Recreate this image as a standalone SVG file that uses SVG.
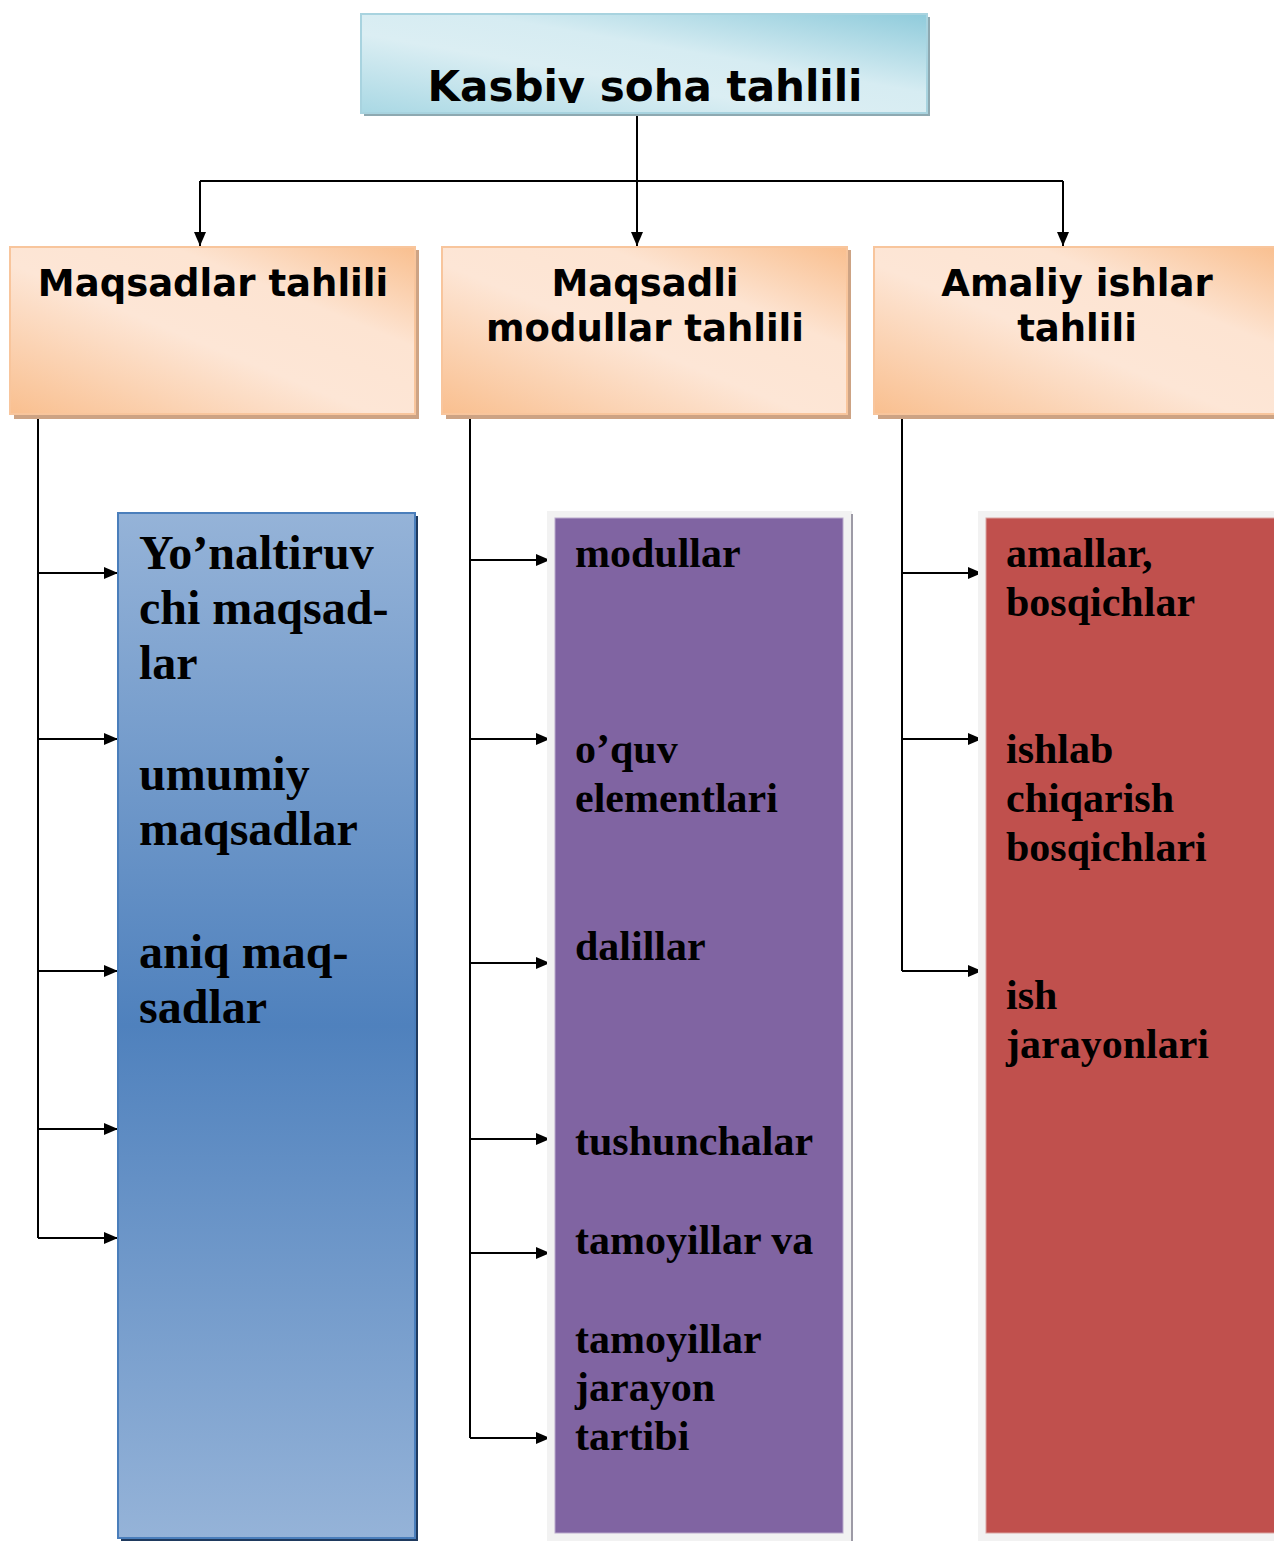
<svg xmlns="http://www.w3.org/2000/svg" width="1274" height="1541" viewBox="0 0 1274 1541">
<defs>
<linearGradient id="gTop" x1="0" y1="1" x2="1" y2="0">
<stop offset="0" stop-color="#a9d8e4"/>
<stop offset="0.4" stop-color="#dbeef3"/>
<stop offset="0.6" stop-color="#d6ecf2"/>
<stop offset="1" stop-color="#8fcbdb"/>
</linearGradient>
<linearGradient id="gOr" x1="0" y1="1" x2="1" y2="0">
<stop offset="0" stop-color="#f9bf8f"/>
<stop offset="0.45" stop-color="#fde6d6"/>
<stop offset="0.7" stop-color="#fde4d2"/>
<stop offset="1" stop-color="#f9bf8f"/>
</linearGradient>
<linearGradient id="gBlue" x1="0" y1="0" x2="0" y2="1">
<stop offset="0" stop-color="#95b3d8"/>
<stop offset="0.5" stop-color="#4f81bd"/>
<stop offset="1" stop-color="#95b3d8"/>
</linearGradient>
<clipPath id="clipTop"><rect x="361" y="14" width="566" height="89"/></clipPath>
<marker id="arr" viewBox="0 0 14 12" refX="14" refY="6" markerWidth="14" markerHeight="12" markerUnits="userSpaceOnUse" orient="auto">
<path d="M0,0 L14,6 L0,12 z" fill="#000"/>
</marker>
<style>
.hd{font-family:"DejaVu Sans",Verdana,sans-serif;font-weight:bold;fill:#000;}
.bt{font-family:"Liberation Serif","Times New Roman",serif;font-weight:bold;fill:#000;}
.ln{stroke:#000;stroke-width:2;fill:none;}
.ar{stroke:#000;stroke-width:2;fill:none;marker-end:url(#arr);}
</style>
</defs>
<rect width="1274" height="1541" fill="#fff"/>

<g id="connectors">
<path class="ln" d="M637,115 V181 M200,181 H1063"/>
<path class="ar" d="M200,181 V246"/>
<path class="ar" d="M637,181 V246"/>
<path class="ar" d="M1063,181 V246"/>
<path class="ln" d="M38,414 V1238"/>
<path class="ar" d="M38,573 H118"/>
<path class="ar" d="M38,739 H118"/>
<path class="ar" d="M38,971 H118"/>
<path class="ar" d="M38,1129 H118"/>
<path class="ar" d="M38,1238 H118"/>
<path class="ln" d="M470,414 V1438"/>
<path class="ar" d="M470,560 H550"/>
<path class="ar" d="M470,739 H550"/>
<path class="ar" d="M470,963 H550"/>
<path class="ar" d="M470,1139 H550"/>
<path class="ar" d="M470,1253 H550"/>
<path class="ar" d="M470,1438 H550"/>
<path class="ln" d="M902,414 V971"/>
<path class="ar" d="M902,573 H982"/>
<path class="ar" d="M902,739 H982"/>
<path class="ar" d="M902,971 H982"/>
</g>

<g id="top">
<rect x="364" y="17" width="566" height="99" fill="#8ea9b1"/>
<rect x="361" y="14" width="566" height="99" fill="url(#gTop)" stroke="#a8d3df" stroke-width="2"/>
<text class="hd" x="645" y="101" font-size="42" text-anchor="middle" clip-path="url(#clipTop)">Kasbiy soha tahlili</text>
</g>

<g id="n1">
<rect x="14" y="250" width="405" height="169" fill="#cda384"/>
<rect x="10" y="247" width="405" height="167" fill="url(#gOr)" stroke="#f8c59c" stroke-width="2"/>
<text class="hd" x="213" y="296" font-size="37" text-anchor="middle">Maqsadlar tahlili</text>
</g>
<g id="n2">
<rect x="446" y="250" width="405" height="169" fill="#cda384"/>
<rect x="442" y="247" width="405" height="167" fill="url(#gOr)" stroke="#f8c59c" stroke-width="2"/>
<text class="hd" x="645" y="296" font-size="37" text-anchor="middle">Maqsadli</text>
<text class="hd" x="645" y="341" font-size="37" text-anchor="middle">modullar tahlili</text>
</g>
<g id="n3">
<rect x="878" y="250" width="400" height="169" fill="#cda384"/>
<rect x="874" y="247" width="405" height="167" fill="url(#gOr)" stroke="#f8c59c" stroke-width="2"/>
<text class="hd" x="1077" y="296" font-size="37" text-anchor="middle">Amaliy ishlar</text>
<text class="hd" x="1077" y="341" font-size="37" text-anchor="middle">tahlili</text>
</g>

<g id="blue">
<rect x="121" y="516" width="297" height="1025" fill="#1f3a5f"/>
<rect x="118" y="513" width="297" height="1025" fill="url(#gBlue)" stroke="#4a7ebb" stroke-width="2"/>
<text class="bt" font-size="48" x="139" y="569">Yo’naltiruv</text>
<text class="bt" font-size="48" x="139" y="624">chi maqsad-</text>
<text class="bt" font-size="48" x="139" y="679">lar</text>
<text class="bt" font-size="48" x="139" y="790">umumiy</text>
<text class="bt" font-size="48" x="139" y="845">maqsadlar</text>
<text class="bt" font-size="48" x="139" y="968">aniq maq-</text>
<text class="bt" font-size="48" x="139" y="1023">sadlar</text>
</g>

<g id="purple">
<rect x="547" y="511" width="305" height="1030" fill="#f2f2f2"/>
<rect x="851" y="514" width="2" height="1027" fill="#9d9aa6"/>
<rect x="555" y="518" width="288" height="1015" fill="#8064a2" stroke="#b9a9cc" stroke-width="1"/>
<text class="bt" font-size="42" x="575" y="567">modullar</text>
<text class="bt" font-size="42" x="575" y="763">o’quv</text>
<text class="bt" font-size="42" x="575" y="812">elementlari</text>
<text class="bt" font-size="42" x="575" y="960">dalillar</text>
<text class="bt" font-size="42" x="575" y="1155">tushunchalar</text>
<text class="bt" font-size="42" x="575" y="1254">tamoyillar va</text>
<text class="bt" font-size="42" x="575" y="1353">tamoyillar</text>
<text class="bt" font-size="42" x="575" y="1401">jarayon</text>
<text class="bt" font-size="42" x="575" y="1450">tartibi</text>
</g>

<g id="red">
<rect x="978" y="511" width="296" height="1030" fill="#f2f2f2"/>
<rect x="986" y="518" width="290" height="1015" fill="#c0504d" stroke="#d9a3a1" stroke-width="1"/>
<text class="bt" font-size="42" x="1006" y="567">amallar,</text>
<text class="bt" font-size="42" x="1006" y="616">bosqichlar</text>
<text class="bt" font-size="42" x="1006" y="763">ishlab</text>
<text class="bt" font-size="42" x="1006" y="812">chiqarish</text>
<text class="bt" font-size="42" x="1006" y="861">bosqichlari</text>
<text class="bt" font-size="42" x="1006" y="1009">ish</text>
<text class="bt" font-size="42" x="1006" y="1058">jarayonlari</text>
</g>
</svg>
